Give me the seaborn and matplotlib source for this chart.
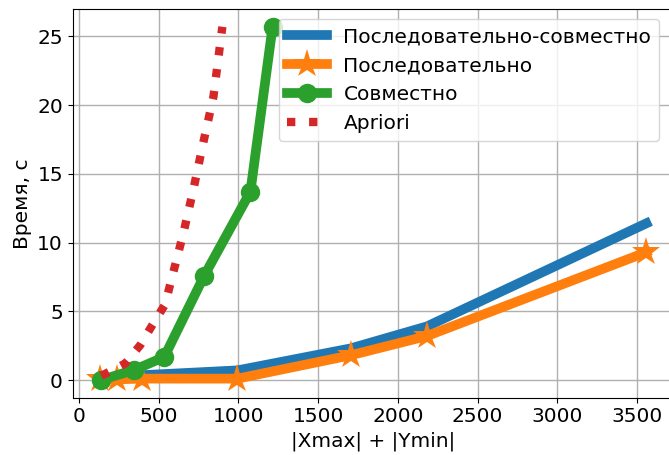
import pandas as pd
import matplotlib
matplotlib.use("Agg")
import matplotlib.pyplot as plt
import seaborn as sns

# x = |Xmax| + |Ymin|, y = time in seconds
seq_x = [132, 239, 396, 994, 1704, 2182, 3558]
seq_joint_y = [0.05, 0.2, 0.35, 0.7, 2.3, 3.9, 11.4]
seq_y = [0.05, 0.05, 0.1, 0.1, 1.8, 3.2, 9.3]

joint_x = [138, 346, 535, 786, 1075, 1214]
joint_y = [0.0, 0.73, 1.68, 7.6, 13.7, 25.7]

apriori_x = [140, 290, 385, 460, 540, 575, 655, 718, 780, 843, 899]
apriori_y = [0.3, 1.2, 2.55, 4.0, 5.5, 7.1, 10.7, 13.9, 17.3, 20.6, 25.7]

plt.rcParams["font.size"] = 14.5
fig, ax = plt.subplots(figsize=(6.69, 4.55), dpi=100)

colors = sns.color_palette("tab10")
sns.lineplot(x=seq_x, y=seq_joint_y, ax=ax, color=colors[0], linewidth=7,
             sort=False, label="Последовательно-совместно")
sns.lineplot(x=seq_x, y=seq_y, ax=ax, color=colors[1], linewidth=7,
             marker="*", markersize=21, markeredgewidth=0, sort=False,
             label="Последовательно")
sns.lineplot(x=joint_x, y=joint_y, ax=ax, color=colors[2], linewidth=7,
             marker="o", markersize=14, markeredgewidth=0, sort=False,
             label="Совместно")
sns.lineplot(x=apriori_x, y=apriori_y, ax=ax, color=colors[3], linewidth=6,
             linestyle=":", sort=False, label="Apriori")

ax.grid(True, color="#b0b0b0", linewidth=1)
ax.set_xlabel("|Xmax| + |Ymin|")
ax.set_ylabel("Время, с")
ax.legend(loc="upper right", bbox_to_anchor=(0.993, 1.0))

fig.subplots_adjust(left=0.1087, right=1.007, bottom=0.126, top=0.98)
fig.savefig("out.png", dpi=100)
